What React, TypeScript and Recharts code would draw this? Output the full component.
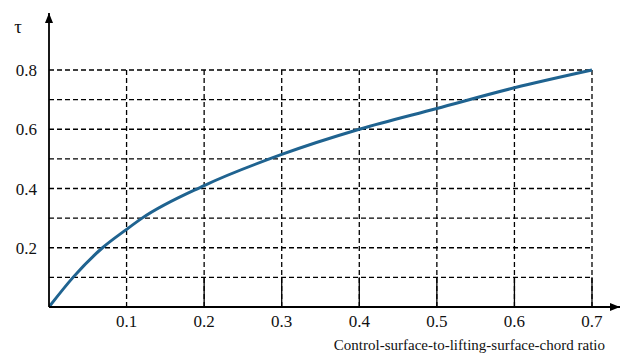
import { LineChart, Line, XAxis, YAxis, ReferenceLine } from 'recharts';

// chord ratio (x) and effectiveness tau (y)
const chordRatio = [0, 0.031, 0.069, 0.1, 0.12, 0.2, 0.3, 0.4, 0.5, 0.6, 0.7];
const tau = [0, 0.1, 0.2, 0.262, 0.3, 0.41, 0.515, 0.6, 0.67, 0.74, 0.8];

const xTicks = [0.1, 0.2, 0.3, 0.4, 0.5, 0.6, 0.7];
const yTicks = [0.2, 0.4, 0.6, 0.8];
const gridY = [0.1, 0.2, 0.3, 0.4, 0.5, 0.6, 0.7, 0.8];
const solidStubsX = [0.2, 0.3, 0.4, 0.5, 0.6, 0.7];

const xTitle = 'Control-surface-to-lifting-surface-chord ratio';
const yTitle = 'τ';

const X_MAX = 0.7;
const Y_MAX = 0.8;

const serif = 'Times New Roman, Liberation Serif, Tinos, DejaVu Serif, serif';
const tickStyle = { fill: '#111', fontSize: 17, fontFamily: serif };

export default function App() {
  const data = chordRatio.map((x, i) => ({ x, tau: tau[i] }));

  return (
    <div style={{ position: 'absolute', left: 0, top: 0, background: '#fff' }}>
      <LineChart
        width={622}
        height={356}
        data={data}
        margin={{ top: 13, right: 2, left: 0, bottom: 19 }}
      >
        <defs>
          <marker
            id="arrowHead"
            viewBox="0 0 10 8"
            refX={10}
            refY={4}
            markerWidth={10}
            markerHeight={8}
            markerUnits="userSpaceOnUse"
            orient="auto-start-reverse"
          >
            <path d="M0,0 L10,4 L0,8 z" fill="#000" />
          </marker>
        </defs>
        <XAxis
          type="number"
          dataKey="x"
          domain={[0, 0.7361]}
          ticks={xTicks}
          allowDataOverflow
          height={30}
          tick={tickStyle}
          tickLine={false}
          axisLine={{ stroke: '#000', strokeWidth: 1.8, markerEnd: 'url(#arrowHead)' }}
          label={{
            content: ({ viewBox }: any) => (
              <text
                x={viewBox.x + viewBox.width - 15}
                y={350}
                textAnchor="end"
                fontFamily={serif}
                fontSize={15}
                fill="#111"
              >
                {xTitle}
              </text>
            ),
          }}
        />
        <YAxis
          type="number"
          domain={[0, 0.9924]}
          ticks={yTicks}
          allowDataOverflow
          width={49}
          tick={tickStyle}
          tickLine={false}
          tickMargin={6}
          axisLine={{ stroke: '#000', strokeWidth: 1.8, markerStart: 'url(#arrowHead)' }}
          label={{
            content: () => (
              <text x={18} y={33} textAnchor="middle" fontFamily={serif} fontSize={19} fill="#111">
                {yTitle}
              </text>
            ),
          }}
        />
        {gridY.map((v) => (
          <ReferenceLine
            key={`h${v}`}
            segment={[
              { x: 0, y: v },
              { x: X_MAX, y: v },
            ]}
            stroke="#000"
            strokeWidth={1.3}
            strokeDasharray="5 3"
          />
        ))}
        {xTicks.map((v) => (
          <ReferenceLine
            key={`v${v}`}
            segment={[
              { x: v, y: 0 },
              { x: v, y: Y_MAX },
            ]}
            stroke="#000"
            strokeWidth={1.3}
            strokeDasharray="5 3"
          />
        ))}
        {solidStubsX.map((v) => (
          <ReferenceLine
            key={`s${v}`}
            segment={[
              { x: v, y: 0 },
              { x: v, y: 0.1 },
            ]}
            stroke="#000"
            strokeWidth={1.3}
          />
        ))}
        <Line
          type="monotone"
          dataKey="tau"
          stroke="#1f6390"
          strokeWidth={3}
          dot={false}
          activeDot={false}
          isAnimationActive={false}
        />
      </LineChart>
    </div>
  );
}
